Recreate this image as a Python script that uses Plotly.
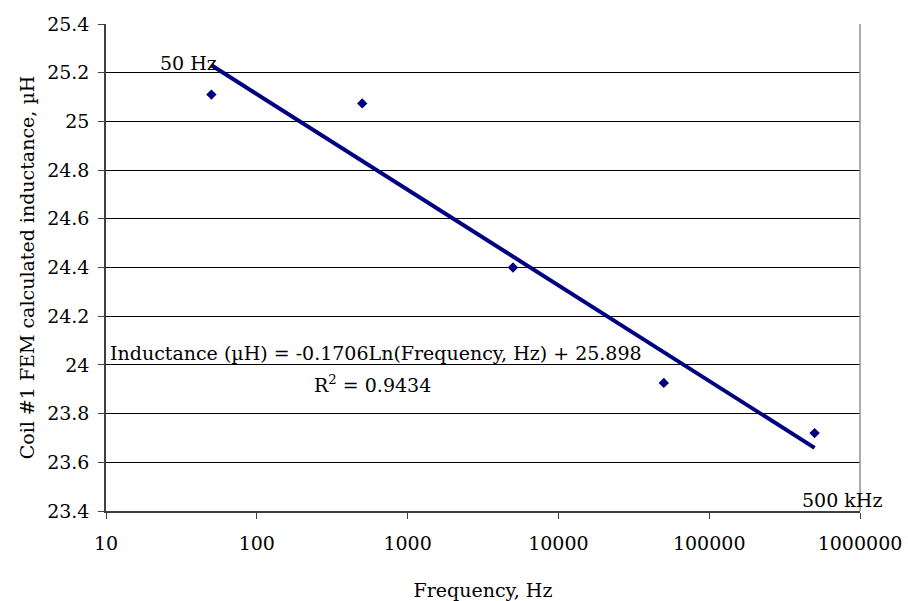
import numpy as np
import plotly.graph_objects as go

# FEM results for coil #1
frequency_hz = [50, 500, 5000, 50000, 500000]
inductance_uh = [25.11, 25.074, 24.40, 23.926, 23.72]

# logarithmic fit coefficients: L = a*ln(f) + b
fit_a = -0.1706
fit_b = 25.898
fit_r2 = 0.9434

x_ticks = [10, 100, 1000, 10000, 100000, 1000000]
x_tick_text = ["10", "100", "1000", "10000", "100000", "1000000"]
y_ticks = [23.4, 23.6, 23.8, 24.0, 24.2, 24.4, 24.6, 24.8, 25.0, 25.2, 25.4]
y_tick_text = ["23.4", "23.6", "23.8", "24", "24.2", "24.4", "24.6", "24.8", "25", "25.2", "25.4"]

NAVY = "#000080"
FONT = "DejaVu Serif"
FS = 19

fit_x = np.array([frequency_hz[0], frequency_hz[-1]], dtype=float)
fit_y = fit_a * np.log(fit_x) + fit_b

fig = go.Figure()
fig.add_trace(go.Scatter(
    x=fit_x, y=fit_y, mode="lines",
    line=dict(color=NAVY, width=4), hoverinfo="skip", showlegend=False,
))
fig.add_trace(go.Scatter(
    x=frequency_hz, y=inductance_uh, mode="markers",
    marker=dict(symbol="diamond", size=8, color=NAVY), showlegend=False,
))

txt = dict(family=FONT, size=FS, color="black")
fig.add_annotation(x=np.log10(fit_x[0]), y=fit_y[0], text="50 Hz", showarrow=False,
                   xanchor="right", yanchor="bottom", xshift=8, yshift=-11, font=txt)
fig.add_annotation(x=np.log10(fit_x[-1]), y=23.4, text="500 kHz", showarrow=False,
                   xanchor="left", yanchor="bottom", xshift=-15, yshift=-2, font=txt)
fig.add_annotation(x=0.003, y=24.05, xref="paper", text=(
    "Inductance (\u00b5H) = %.4fLn(Frequency, Hz) + %.3f" % (fit_a, fit_b)),
    showarrow=False, xanchor="left", yanchor="middle", font=txt)
fig.add_annotation(x=0.353, xref="paper", y=23.922, text="R<sup>2</sup> = %.4f" % fit_r2,
                   showarrow=False, xanchor="center", yanchor="middle", font=txt)

fig.update_xaxes(
    type="log", range=[1, 6], tickvals=x_ticks, ticktext=x_tick_text,
    showgrid=False, zeroline=False, automargin=False,
    showline=True, linecolor="#404040", linewidth=1.5, mirror=False,
    ticks="outside", ticklen=6, tickcolor="#404040", ticklabelstandoff=8,
    tickfont=txt,
    title=dict(text="Frequency, Hz", font=txt, standoff=33),
)
fig.update_yaxes(
    range=[23.4, 25.4], tickvals=y_ticks, ticktext=y_tick_text,
    showgrid=True, gridcolor="black", gridwidth=1, zeroline=False, automargin=False,
    showline=True, linecolor="#404040", linewidth=1.5,
    ticks="outside", ticklen=6, tickcolor="#404040", ticklabelstandoff=5,
    tickfont=txt,
    title=dict(text="Coil #1 FEM calculated inductance, \u00b5H", font=txt, standoff=7),
)

# right border of the plot area
fig.add_shape(type="line", xref="paper", yref="paper", x0=1, x1=1, y0=0, y1=1,
              line=dict(color="#909090", width=1.5))

fig.update_layout(
    width=908, height=601,
    margin=dict(l=106, r=48, t=24, b=90),
    plot_bgcolor="white", paper_bgcolor="white",
    font=txt,
)

fig.write_html("out.html")
